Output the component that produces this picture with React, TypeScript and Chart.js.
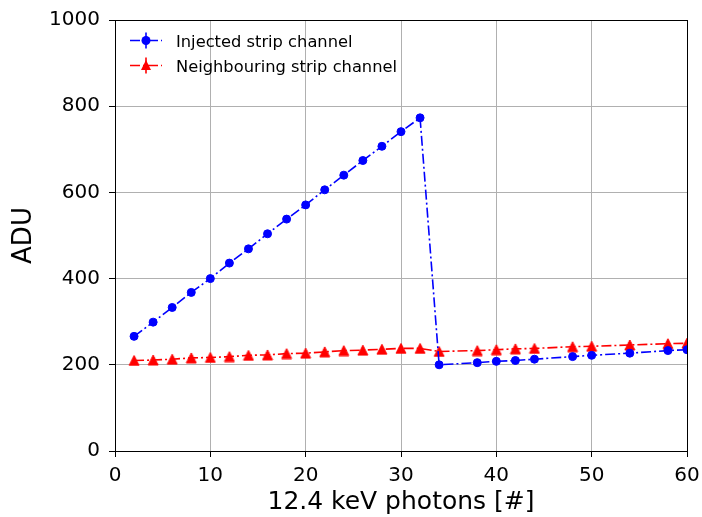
import React, { useEffect, useRef } from 'react';
import { Chart, registerables } from 'chart.js';

Chart.register(...registerables);

// ---- data ----
const photons = [2, 4, 6, 8, 10, 12, 14, 16, 18, 20, 22, 24, 26, 28, 30, 32, 34, 38, 40, 42, 44, 48, 50, 54, 58, 60];
const injectedADU = [266, 299, 333, 368, 400, 436, 469, 504, 538, 571, 606, 640, 674, 707, 741, 773, 200, 205, 208, 210, 213, 219, 222, 227, 233, 235];
const neighbourADU = [210, 211, 213, 216, 217, 219, 222, 223, 226, 227, 230, 233, 234, 236, 238, 238, 231, 233, 235, 237, 238, 242, 243, 246, 249, 250];
const xTicks = [0, 10, 20, 30, 40, 50, 60];
const yTicks = [0, 200, 400, 600, 800, 1000];
const seriesLabels = ['Injected strip channel', 'Neighbouring strip channel'];
const xTitle = '12.4 keV photons [#]';
const yTitle = 'ADU';

const BLUE = '#0000ff';
const RED = '#ff0000';
const FONT = "'DejaVu Sans', 'Liberation Sans', sans-serif";
const DASH = [10, 3, 2, 3];

function makeTriangle(color: string, size: number): HTMLCanvasElement {
  const s = size + 2;
  const c = document.createElement('canvas');
  c.width = s;
  c.height = s;
  const ctx = c.getContext('2d')!;
  ctx.fillStyle = color;
  ctx.strokeStyle = color;
  ctx.lineWidth = 1;
  ctx.beginPath();
  ctx.moveTo(s / 2, 1);
  ctx.lineTo(s - 1, s - 1);
  ctx.lineTo(1, s - 1);
  ctx.closePath();
  ctx.fill();
  ctx.stroke();
  return c;
}

const framePlugin = {
  id: 'frame',
  afterDatasetsDraw(chart: any) {
    const { ctx, chartArea } = chart;
    ctx.save();
    ctx.strokeStyle = '#000';
    ctx.lineWidth = 1;
    ctx.setLineDash([]);
    ctx.strokeRect(
      Math.round(chartArea.left) + 0.5,
      Math.round(chartArea.top) + 0.5,
      Math.round(chartArea.right - chartArea.left),
      Math.round(chartArea.bottom - chartArea.top)
    );
    ctx.restore();
  },
};

const legendPlugin = {
  id: 'mplLegend',
  afterDraw(chart: any) {
    const { ctx } = chart;
    const items = [
      { label: seriesLabels[0], color: BLUE, marker: 'circle' },
      { label: seriesLabels[1], color: RED, marker: 'triangle' },
    ];
    ctx.save();
    items.forEach((it, i) => {
      const baseline = 47 + i * 25;
      const cy = baseline - 6.5;
      ctx.strokeStyle = it.color;
      ctx.fillStyle = it.color;
      ctx.lineWidth = 1.6;
      ctx.setLineDash(DASH);
      ctx.beginPath();
      ctx.moveTo(130, cy);
      ctx.lineTo(162, cy);
      ctx.stroke();
      ctx.setLineDash([]);
      ctx.beginPath();
      ctx.moveTo(146, cy - 8);
      ctx.lineTo(146, cy + 8);
      ctx.stroke();
      if (it.marker === 'circle') {
        ctx.beginPath();
        ctx.arc(146, cy, 4.5, 0, Math.PI * 2);
        ctx.fill();
      } else {
        ctx.beginPath();
        ctx.moveTo(146, cy - 5.5);
        ctx.lineTo(151, cy + 4.5);
        ctx.lineTo(141, cy + 4.5);
        ctx.closePath();
        ctx.fill();
      }
      ctx.fillStyle = '#000';
      ctx.font = `16.3px ${FONT}`;
      ctx.textAlign = 'left';
      ctx.textBaseline = 'alphabetic';
      ctx.fillText(it.label, 176, baseline);
    });
    ctx.restore();
  },
};

export default function App() {
  const ref = useRef<HTMLCanvasElement | null>(null);

  useEffect(() => {
    if (!ref.current) return;
    const tri = makeTriangle(RED, 10);
    const chart = new Chart(ref.current, {
      type: 'line',
      data: {
        datasets: [
          {
            label: seriesLabels[0],
            data: photons.map((x, i) => ({ x, y: injectedADU[i] })),
            borderColor: BLUE,
            backgroundColor: BLUE,
            borderWidth: 1.6,
            borderDash: DASH,
            pointStyle: 'circle',
            pointRadius: 4,
            pointBorderWidth: 1,
            pointBackgroundColor: BLUE,
            pointBorderColor: BLUE,
            tension: 0,
            fill: false,
          },
          {
            label: seriesLabels[1],
            data: photons.map((x, i) => ({ x, y: neighbourADU[i] })),
            borderColor: RED,
            backgroundColor: RED,
            borderWidth: 1.6,
            borderDash: DASH,
            pointStyle: tri as any,
            pointRadius: 5,
            tension: 0,
            fill: false,
          },
        ],
      },
      options: {
        animation: false,
        responsive: false,
        devicePixelRatio: 1,
        layout: { padding: { left: 0, top: 20, right: 15, bottom: 0 } },
        plugins: {
          legend: { display: false },
          tooltip: { enabled: false },
        },
        scales: {
          x: {
            type: 'linear',
            min: 0,
            max: 60,
            afterBuildTicks: (scale: any) => {
              scale.ticks = xTicks.map((v) => ({ value: v }));
            },
            afterFit: (scale: any) => {
              scale.height = 66;
              scale.paddingLeft = 0;
              scale.paddingRight = 0;
            },
            grid: {
              color: '#b0b0b0',
              lineWidth: 1,
              tickColor: '#000',
              tickLength: 6,
              drawTicks: true,
            },
            border: { display: false },
            ticks: {
              color: '#000',
              font: { family: FONT, size: 20 },
              padding: 7,
              maxRotation: 0,
              autoSkip: false,
              callback: (v: any) => String(v),
            },
            title: {
              display: true,
              text: xTitle,
              color: '#000',
              font: { family: FONT, size: 25, lineHeight: 1.05 },
              padding: { top: 0, bottom: 1 },
            },
          },
          y: {
            type: 'linear',
            min: 0,
            max: 1000,
            afterBuildTicks: (scale: any) => {
              scale.ticks = yTicks.map((v) => ({ value: v }));
            },
            afterFit: (scale: any) => {
              scale.width = 115;
              scale.paddingTop = 0;
              scale.paddingBottom = 0;
            },
            grid: {
              color: '#b0b0b0',
              lineWidth: 1,
              tickColor: '#000',
              tickLength: 6,
              drawTicks: true,
            },
            border: { display: false },
            ticks: {
              color: '#000',
              font: { family: FONT, size: 20 },
              padding: 9,
              autoSkip: false,
              callback: (v: any) => String(v),
            },
            title: {
              display: true,
              text: yTitle,
              color: '#000',
              font: { family: FONT, size: 26, lineHeight: 1.2 },
              padding: { top: 9, bottom: 0 },
            },
          },
        },
      },
      plugins: [framePlugin, legendPlugin],
    });
    return () => chart.destroy();
  }, []);

  return (
    <div style={{ position: 'absolute', left: 0, top: 0, width: 702, height: 517, background: '#fff' }}>
      <canvas ref={ref} width={702} height={517} style={{ display: 'block', width: 702, height: 517 }} />
    </div>
  );
}
